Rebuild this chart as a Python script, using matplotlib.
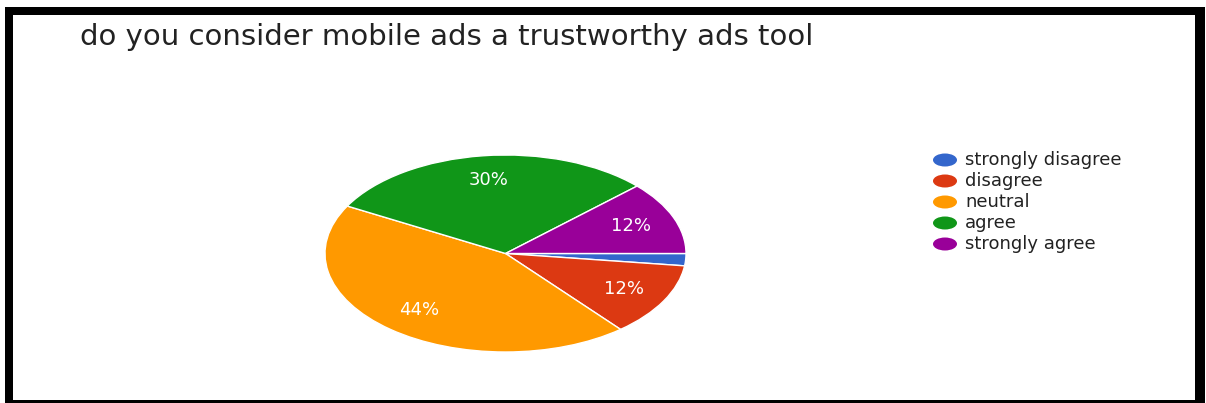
import matplotlib.pyplot as plt
from matplotlib.patches import Ellipse, Rectangle

categories = ["strongly disagree", "disagree", "neutral", "agree", "strongly agree"]
responses = [1, 6, 22, 15, 6]
colors = ["#3366cc", "#dc3912", "#ff9900", "#109618", "#990099"]
title = "do you consider mobile ads a trustworthy ads tool"

W, H = 1206, 403


def fx(px):
    return px / W


def fy(py):
    return 1 - py / H


def main():
    plt.rcParams["font.family"] = ["DejaVu Sans"]
    fig = plt.figure(figsize=(W / 100, H / 100), dpi=100)

    # black frame round the card
    fig.patches.append(Rectangle((fx(5), 0), fx(1205) - fx(5), fy(7), transform=fig.transFigure,
                                 facecolor="black", edgecolor="none", zorder=-3))
    fig.patches.append(Rectangle((fx(13), fy(400)), fx(1195) - fx(13), fy(15) - fy(400),
                                 transform=fig.transFigure, facecolor="white", edgecolor="none", zorder=-2))

    fig.text(fx(80), fy(45), title, fontsize=21, color="#222222", va="baseline", ha="left")

    ax = fig.add_axes([fx(325), fy(352), fx(686) - fx(325), fy(155) - fy(352)])
    ax.set_zorder(1)

    def fmt(p):
        return f"{p:.0f}%" if p >= 5 else ""

    ax.pie(
        responses, colors=colors, startangle=0, counterclock=False,
        autopct=fmt, pctdistance=0.75,
        wedgeprops=dict(edgecolor="white", linewidth=1),
        textprops=dict(color="white", fontsize=13),
    )
    ax.set_aspect("auto")
    ax.set_xlim(-1.0, 1.0)
    ax.set_ylim(-1.0, 1.0)
    ax.axis("off")

    # legend drawn by hand: oval markers and labels
    for i, (name, c) in enumerate(zip(categories, colors)):
        y = 160 + 21 * i
        fig.patches.append(Ellipse((fx(945), fy(y)), fx(24), 13 / H, transform=fig.transFigure,
                                   facecolor=c, edgecolor="none"))
        fig.text(fx(965), fy(y), name, fontsize=13, color="#222222", va="center", ha="left")

    fig.savefig("out.png", dpi=100, facecolor="white")
    plt.close(fig)


if __name__ == "__main__":
    main()
